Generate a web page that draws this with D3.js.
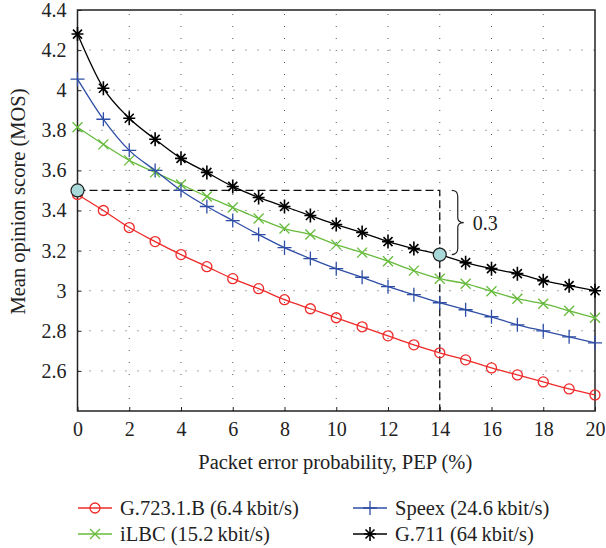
<!DOCTYPE html>
<html>
<head>
<meta charset="utf-8">
<script src="https://cdn.jsdelivr.net/npm/d3@7"></script>
<style>
  body { margin: 0; background: #fff; }
  text { font-family: "Liberation Serif", "DejaVu Serif", serif; fill: #222; }
</style>
</head>
<body>
<div id="chart"></div>
<script>
const pep = d3.range(0, 21);
const g7231 = [3.48, 3.40, 3.315, 3.245, 3.18, 3.12, 3.06, 3.01, 2.955, 2.91, 2.865, 2.82, 2.775, 2.73, 2.69, 2.655, 2.615, 2.58, 2.545, 2.51, 2.48];
const ilbc = [3.815, 3.73, 3.65, 3.59, 3.53, 3.47, 3.415, 3.36, 3.31, 3.28, 3.23, 3.19, 3.147, 3.10, 3.06, 3.035, 2.997, 2.96, 2.935, 2.90, 2.865];
const speex = [4.055, 3.855, 3.70, 3.60, 3.50, 3.42, 3.35, 3.28, 3.215, 3.16, 3.11, 3.067, 3.02, 2.98, 2.94, 2.905, 2.87, 2.83, 2.80, 2.77, 2.74];
const g711 = [4.28, 4.01, 3.86, 3.755, 3.66, 3.59, 3.52, 3.465, 3.42, 3.375, 3.33, 3.29, 3.245, 3.21, 3.18, 3.14, 3.11, 3.085, 3.05, 3.025, 3.0];
const xTicks = [0, 2, 4, 6, 8, 10, 12, 14, 16, 18, 20];
const yTicks = [2.6, 2.8, 3.0, 3.2, 3.4, 3.6, 3.8, 4.0, 4.2, 4.4];

const series = [
  { name: "G.723.1.B (6.4\u2009kbit/s)", values: g7231, color: "#ee2a2a", marker: "circle" },
  { name: "iLBC (15.2\u2009kbit/s)", values: ilbc, color: "#66bb3c", marker: "x" },
  { name: "Speex (24.6\u2009kbit/s)", values: speex, color: "#2f4ea6", marker: "plus" },
  { name: "G.711 (64\u2009kbit/s)", values: g711, color: "#000000", marker: "star" }
];

const width = 606, height = 548;
const margin = { left: 77.5, right: 11, top: 10, bottom: 137 };

const svg = d3.select("#chart").append("svg")
  .attr("width", width)
  .attr("height", height);

const x = d3.scaleLinear().domain([0, 20]).range([margin.left, width - margin.right]);
const y = d3.scaleLinear().domain([2.4, 4.4]).range([height - margin.bottom, margin.top]);

// grid
const grid = svg.append("g").attr("stroke", "#555").attr("stroke-width", 1).attr("stroke-dasharray", "1,11");
grid.selectAll(".gx").data(xTicks.slice(1, -1)).enter().append("line")
  .attr("x1", d => x(d)).attr("x2", d => x(d))
  .attr("y1", y(2.4)).attr("y2", y(4.4));
grid.selectAll(".gy").data(yTicks.slice(0, -1)).enter().append("line")
  .attr("x1", x(0)).attr("x2", x(20))
  .attr("y1", d => y(d)).attr("y2", d => y(d));

// axes
const xAxis = d3.axisBottom(x).tickValues(xTicks).tickSize(-4).tickPadding(11).tickFormat(d3.format("d"));
const yAxis = d3.axisLeft(y).tickValues(yTicks).tickSize(-4).tickPadding(11).tickFormat(d => d3.format("")(+d.toFixed(1)));

const gx = svg.append("g").attr("transform", `translate(0,${y(2.4)})`).call(xAxis);
const gy = svg.append("g").attr("transform", `translate(${x(0)},0)`).call(yAxis);
[gx, gy].forEach(g => {
  g.select(".domain").remove();
  g.selectAll("line").attr("stroke", "#222");
  g.selectAll("text").style("font-size", "20px").attr("fill", "#222")
    .style("font-family", "'Liberation Serif', serif");
});
gx.selectAll("text").attr("dy", "0.7em");

// frame
svg.append("rect")
  .attr("x", x(0)).attr("y", y(4.4))
  .attr("width", x(20) - x(0)).attr("height", y(2.4) - y(4.4))
  .attr("fill", "none").attr("stroke", "#222").attr("stroke-width", 1.5);

// dashed guides
svg.append("path")
  .attr("d", `M${x(0)},${y(3.5)}H${x(14)}V${y(2.4)}`)
  .attr("fill", "none").attr("stroke", "#111").attr("stroke-width", 1.3)
  .attr("stroke-dasharray", "8,4");

function drawMarker(g, type, color) {
  if (type === "circle") {
    g.append("circle").attr("r", 5).attr("fill", "none").attr("stroke", color).attr("stroke-width", 1.3);
  } else if (type === "x") {
    g.append("path").attr("d", "M-5,-5L5,5M-5,5L5,-5").attr("stroke", color).attr("stroke-width", 1.3);
  } else if (type === "plus") {
    g.append("path").attr("d", "M-7,0H7M0,-7V7").attr("stroke", color).attr("stroke-width", 1.3);
  } else if (type === "star") {
    g.append("path").attr("d", "M-6,0H6M0,-7V7M-4.5,-4.5L4.5,4.5M-4.5,4.5L4.5,-4.5").attr("stroke", color).attr("stroke-width", 1.6);
  }
}

const line = d3.line()
  .x((d, i) => x(pep[i]))
  .y(d => y(d))
  .curve(d3.curveMonotoneX);

series.forEach(s => {
  svg.append("path")
    .datum(s.values)
    .attr("d", line)
    .attr("fill", "none")
    .attr("stroke", s.color)
    .attr("stroke-width", 1.3);
  svg.append("g").selectAll("g").data(s.values).enter().append("g")
    .attr("transform", (d, i) => `translate(${x(pep[i])},${y(d)})`)
    .each(function () { drawMarker(d3.select(this), s.marker, s.color); });
});

// highlighted points
svg.selectAll(".hl").data([[0, 3.5], [14, 3.18]]).enter().append("circle")
  .attr("cx", d => x(d[0])).attr("cy", d => y(d[1])).attr("r", 6.5)
  .attr("fill", "#a9d8d8").attr("stroke", "#222").attr("stroke-width", 1.2);

// brace
const bx = x(14) + 18, bt = y(3.5), bb = y(3.18), bm = (bt + bb) / 2;
svg.append("path")
  .attr("d", `M${bx - 6},${bt} Q${bx},${bt} ${bx},${bt + 6} V${bm - 5} Q${bx},${bm} ${bx + 6},${bm} Q${bx},${bm} ${bx},${bm + 5} V${bb - 6} Q${bx},${bb} ${bx - 6},${bb}`)
  .attr("fill", "none").attr("stroke", "#222").attr("stroke-width", 1.2);
svg.append("text").attr("x", bx + 15).attr("y", bm).attr("dy", "0.35em")
  .style("font-size", "20px").text("0.3");

// axis titles
svg.append("text")
  .attr("x", (x(0) + x(20)) / 2 - 1).attr("y", 469)
  .attr("text-anchor", "middle").style("font-size", "20.5px")
  .text("Packet error probability, PEP (%)");
svg.append("text")
  .attr("transform", `translate(25,${(y(2.4) + y(4.4)) / 2 - 9}) rotate(-90)`)
  .attr("text-anchor", "middle").style("font-size", "20.5px")
  .text("Mean opinion score (MOS)");

// legend
const legendPos = [[78, 508], [78, 534], [353, 508], [353, 534]];
series.forEach((s, i) => {
  const g = svg.append("g").attr("transform", `translate(${legendPos[i][0]},${legendPos[i][1]})`);
  g.append("line").attr("x1", 0).attr("x2", 34).attr("stroke", s.color).attr("stroke-width", 1.3);
  const m = g.append("g").attr("transform", "translate(17,0)");
  drawMarker(m, s.marker, s.color);
  g.append("text").attr("x", 42).attr("dy", "0.35em").style("font-size", "20.5px").text(s.name);
});
</script>
</body>
</html>
